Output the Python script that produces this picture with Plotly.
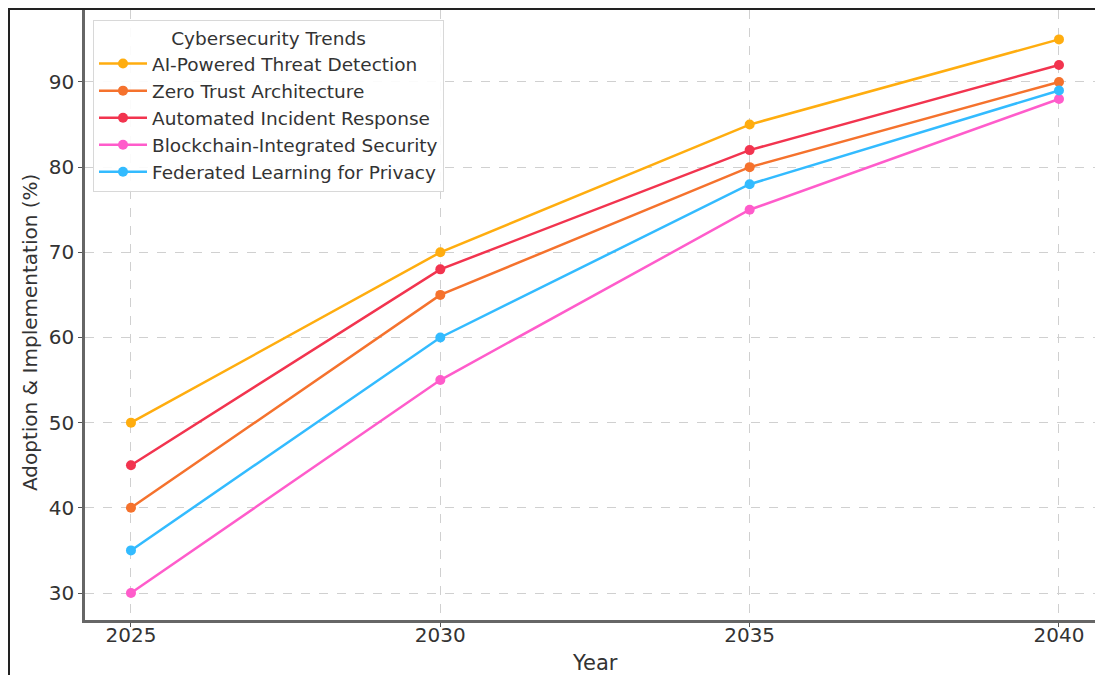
import plotly.graph_objects as go

years = [2025, 2030, 2035, 2040]
series_names = [
    "AI-Powered Threat Detection",
    "Zero Trust Architecture",
    "Automated Incident Response",
    "Blockchain-Integrated Security",
    "Federated Learning for Privacy",
]
ai_threat = [50, 70, 85, 95]
zero_trust = [40, 65, 80, 90]
auto_incident = [45, 68, 82, 92]
blockchain = [30, 55, 75, 88]
federated = [35, 60, 78, 89]
colors = ["#FFAD0F", "#F5722D", "#F2344F", "#FF5CCB", "#33BBFF"]

values = [ai_threat, zero_trust, auto_incident, blockchain, federated]

fig = go.Figure()
for name, vals, c in zip(series_names, values, colors):
    fig.add_trace(go.Scatter(
        x=years, y=vals, name=name, mode="lines+markers",
        line=dict(color=c, width=2.5),
        marker=dict(color=c, size=10),
    ))

# page body has an 8px margin; figure sized to fit the viewport
W, H = 1087, 667
L, R, T, B = 77, 0, 2, 55
PW, PH = W - L - R, H - T - B

def px(xs):
    return (xs - 8 - L) / PW

def py(ys):
    return 1 - (ys - 8 - T) / PH

fig.update_layout(
    width=W, height=H,
    margin=dict(l=L, r=R, t=T, b=B),
    paper_bgcolor="white", plot_bgcolor="white",
    font=dict(family="DejaVu Sans", size=18, color="#333333"),
    showlegend=True,
    legend=dict(
        x=px(93), y=py(20), xanchor="left", yanchor="top",
        bgcolor="rgba(255,255,255,0.9)", bordercolor="#d8d8d8", borderwidth=1,
        font=dict(family="DejaVu Sans", size=18.5, color="#333333"),
        title=dict(text="Cybersecurity Trends", side="top center",
                   font=dict(family="DejaVu Sans", size=18.5, color="#333333")),
        itemwidth=48, tracegroupgap=0,
    ),
    xaxis=dict(
        range=[2024.257, 2040.582],
        tickvals=years, ticktext=[str(y) for y in years],
        showgrid=True, gridcolor="#d0d0d0", griddash="dash", gridwidth=1,
        showline=True, linecolor="#666666", linewidth=2.5,
        ticks="outside", ticklen=4, tickcolor="#555555",
        tickfont=dict(family="DejaVu Sans", size=20, color="#333333"),
        ticklabelstandoff=-9,
        zeroline=False, automargin=False,
    ),
    yaxis=dict(
        range=[26.83, 98.45],
        tickvals=[30, 40, 50, 60, 70, 80, 90],
        showgrid=True, gridcolor="#d0d0d0", griddash="dash", gridwidth=1,
        showline=True, linecolor="#666666", linewidth=2.5,
        ticks="outside", ticklen=4, tickcolor="#555555",
        tickfont=dict(family="DejaVu Sans", size=20, color="#333333"),
        zeroline=False, automargin=False,
    ),
    annotations=[
        dict(text="Year", xref="paper", yref="paper", x=px(595), y=py(663),
             xanchor="center", yanchor="middle", showarrow=False,
             font=dict(family="DejaVu Sans", size=21, color="#333333")),
        dict(text="Adoption & Implementation (%)", xref="paper", yref="paper",
             x=px(30), y=py(333), textangle=-90,
             xanchor="center", yanchor="middle", showarrow=False,
             font=dict(family="DejaVu Sans", size=20, color="#333333")),
    ],
    shapes=[
        dict(type="line", xref="paper", yref="paper", x0=px(8), x1=px(1110), y0=py(9), y1=py(9),
             line=dict(color="#222222", width=2)),
        dict(type="line", xref="paper", yref="paper", x0=px(9), x1=px(9), y0=py(690), y1=py(9),
             line=dict(color="#222222", width=2)),
    ],
)

fig.write_html("out.html", post_script="document.documentElement.style.overflow='hidden';")
